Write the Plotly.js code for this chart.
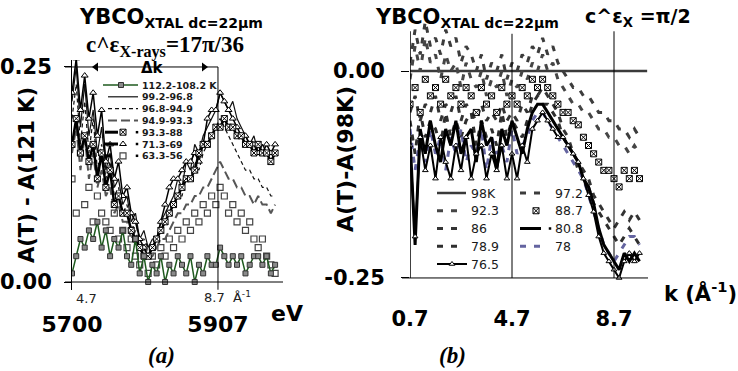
<!DOCTYPE html>
<html><head><meta charset="utf-8">
<script src="https://cdn.plot.ly/plotly-3.0.1.min.js"></script>
<style>html,body{margin:0;padding:0;background:#fff}#chart{width:738px;height:371px}</style>
</head><body><div id="chart"></div>
<script>
// ---------- Panel (a): energy grid (eV) ----------
const eV = [5700,5706,5712,5718,5724,5730,5736,5742,5748,5754,5760,5766,5772,5778,5784,5790,5796,5802,5808,5814,5820,5826,5832,5838,5844,5850,5856,5862,5868,5874,5880,5886,5892,5898,5904,5910,5916,5922,5928,5934,5940,5946,5952,5958,5964,5970,5976,5982,5988];
const aNames = ['112.2-108.2 K','99.2-96.8','96.8-94.9','94.9-93.3','93.3-88','71.3-69','63.3-56'];
const a112 = [0.01,0.03,0.05,0.04,0.06,0.05,0.07,0.04,0.06,0.03, 0.05,0.04,0.06,0.03,0.02,0.05,0.01,0.03,0.00,0.02, 0.01,0.03,0.00,0.02,0.01,0.03,0.02,0.01,0.03,0.00, 0.02,0.01,0.03,0.02,0.02,0.04,0.03,0.02,0.03,0.02, 0.03,0.01,0.02,0.03,0.03,0.02,0.03,0.01,0.02];
const a992 = [0.21,0.25,0.18,0.23,0.17,0.20,0.15,0.18,0.13,0.15, 0.11,0.12,0.09,0.10,0.07,0.08,0.05,0.06,0.04,0.05, 0.05,0.07,0.08,0.09,0.10,0.12,0.11,0.14,0.13,0.16, 0.15,0.17,0.18,0.19,0.20,0.22,0.21,0.20,0.21,0.19, 0.18,0.17,0.16,0.17,0.15,0.16,0.15,0.14,0.15];
const a968 = [0.19,0.23,0.16,0.21,0.15,0.19,0.13,0.16,0.12,0.14, 0.10,0.11,0.08,0.09,0.06,0.07,0.05,0.05,0.04,0.04, 0.05,0.06,0.07,0.08,0.09,0.10,0.10,0.12,0.12,0.14, 0.13,0.15,0.16,0.17,0.18,0.19,0.18,0.17,0.16,0.15, 0.14,0.13,0.13,0.12,0.12,0.11,0.11,0.10,0.10];
const a949 = [0.15,0.18,0.13,0.17,0.12,0.15,0.11,0.13,0.10,0.11, 0.08,0.09,0.07,0.07,0.05,0.06,0.04,0.04,0.03,0.03, 0.04,0.05,0.05,0.06,0.07,0.08,0.08,0.09,0.09,0.10, 0.10,0.11,0.11,0.12,0.13,0.14,0.13,0.12,0.12,0.11, 0.11,0.10,0.10,0.09,0.10,0.09,0.09,0.08,0.09];
const a933 = [0.16,0.19,0.15,0.17,0.14,0.16,0.12,0.15,0.11,0.13, 0.09,0.10,0.08,0.08,0.06,0.05,0.04,0.03,0.03,0.04, 0.05,0.06,0.07,0.08,0.09,0.10,0.11,0.12,0.12,0.13, 0.15,0.16,0.16,0.17,0.18,0.18,0.19,0.18,0.18,0.17, 0.17,0.16,0.16,0.15,0.16,0.15,0.15,0.14,0.15];
const a713 = [0.22,0.26,0.20,0.24,0.19,0.22,0.17,0.20,0.14,0.16, 0.12,0.14,0.10,0.11,0.08,0.07,0.05,0.04,0.03,0.04, 0.05,0.07,0.09,0.11,0.12,0.12,0.13,0.14,0.14,0.15, 0.14,0.16,0.19,0.20,0.20,0.22,0.21,0.20,0.19,0.18, 0.17,0.17,0.16,0.16,0.15,0.15,0.16,0.15,0.16];
const a633 = [0.12,0.08,0.15,0.09,0.11,0.07,0.10,0.08,0.07,0.06, 0.08,0.05,0.06,0.04,0.05,0.03,0.02,0.04,0.01,0.03, 0.02,0.04,0.03,0.05,0.04,0.06,0.05,0.07,0.06,0.08, 0.07,0.09,0.08,0.10,0.09,0.11,0.10,0.08,0.09,0.07, 0.08,0.06,0.07,0.05,0.04,0.05,0.03,0.02,0.01];
const aTicks = [5700,5907];
const aTickText = ['5700','5907'];
const aYTicks = [0,0.25];
const aYTickText = ['0.00','0.25'];

// ---------- Panel (b): k grid (1/Angstrom) ----------
const kB = [0.7,0.9,1.1,1.3,1.5,1.7,1.9,2.1,2.3,2.5,2.7,2.9,3.1,3.3,3.5,3.7,3.9,4.1,4.3,4.5,4.7,4.9,5.1,5.3,5.5,5.7,5.9,6.1,6.3,6.5,6.7,6.9,7.1,7.3,7.5,7.7,7.9,8.1,8.3,8.5,8.7,8.9,9.1,9.3,9.5,9.7];
const k98 = [0.7,10.0];
const b98 = [0,0];
const b972 = [0.01,0.05,0.02,0.06,0.03,0.04,0.02,0.05,0.03,0.04, 0.01,0.03,0.02,0.00,0.02,-0.01,0.01,0.00,0.02,-0.01, 0.01,0.00,0.02,0.01,0.03,0.02,0.04,0.02,0.03,0.01, 0.00,-0.01,-0.02,-0.02,-0.03,-0.03,-0.04,-0.05,-0.05,-0.06, -0.06,-0.07,-0.07,-0.08,-0.07,-0.08];
const b923 = [-0.01,0.03,0.00,0.04,0.01,0.02,-0.01,0.02,0.00,0.01, -0.02,0.01,-0.01,-0.02,0.00,-0.03,-0.01,-0.02,0.00,-0.03, -0.01,-0.02,0.00,-0.01,0.01,0.00,0.02,0.00,0.01,-0.01, -0.02,-0.03,-0.04,-0.04,-0.05,-0.05,-0.06,-0.07,-0.07,-0.08, -0.08,-0.09,-0.09,-0.10,-0.09,-0.10];
const b887 = [-0.04,-0.02,-0.05,-0.01,-0.03,-0.02,-0.04,-0.01,-0.03,-0.02, -0.04,-0.02,-0.03,-0.05,-0.02,-0.04,-0.03,-0.05,-0.02,-0.04, -0.03,-0.04,-0.02,-0.03,-0.01,-0.02,-0.01,-0.02,-0.03,-0.04, -0.05,-0.05,-0.06,-0.065,-0.08,-0.09,-0.10,-0.11,-0.12,-0.12, -0.13,-0.14,-0.12,-0.13,-0.12,-0.13];
const b86 = [-0.05,-0.03,-0.06,-0.04,-0.05,-0.03,-0.06,-0.04,-0.05,-0.03, -0.06,-0.04,-0.05,-0.06,-0.04,-0.06,-0.05,-0.06,-0.04,-0.06, -0.05,-0.06,-0.04,-0.05,-0.03,-0.03,-0.02,-0.03,-0.04,-0.05, -0.07,-0.08,-0.10,-0.11,-0.12,-0.13,-0.15,-0.16,-0.17,-0.18, -0.19,-0.18,-0.17,-0.18,-0.17,-0.18];
const b808 = [-0.08,-0.21,-0.07,-0.10,-0.06,-0.09,-0.11,-0.07,-0.09,-0.06, -0.10,-0.08,-0.07,-0.11,-0.06,-0.09,-0.08,-0.12,-0.07,-0.09, -0.06,-0.08,-0.10,-0.07,-0.05,-0.04,-0.04,-0.05,-0.06,-0.07, -0.08,-0.09,-0.10,-0.11,-0.13,-0.14,-0.16,-0.19,-0.21,-0.22, -0.23,-0.24,-0.22,-0.23,-0.22,-0.23];
const b789 = [-0.06,-0.10,-0.05,-0.08,-0.06,-0.07,-0.09,-0.05,-0.08,-0.06, -0.08,-0.06,-0.05,-0.09,-0.06,-0.08,-0.07,-0.09,-0.05,-0.08, -0.06,-0.07,-0.08,-0.06,-0.04,-0.03,-0.04,-0.04,-0.05,-0.06, -0.08,-0.09,-0.10,-0.12,-0.13,-0.14,-0.16,-0.17,-0.18,-0.19, -0.20,-0.21,-0.20,-0.19,-0.20,-0.21];
const b78 = [-0.07,-0.12,-0.08,-0.11,-0.07,-0.10,-0.08,-0.12,-0.08,-0.10, -0.07,-0.11,-0.09,-0.10,-0.07,-0.12,-0.08,-0.10,-0.09,-0.11, -0.07,-0.10,-0.09,-0.08,-0.06,-0.05,-0.05,-0.06,-0.07,-0.08, -0.09,-0.10,-0.11,-0.12,-0.13,-0.15,-0.17,-0.19,-0.21,-0.22, -0.23,-0.22,-0.21,-0.20,-0.20,-0.21];
const b765 = [-0.09,-0.20,-0.08,-0.12,-0.09,-0.13,-0.08,-0.11,-0.13,-0.09, -0.12,-0.08,-0.13,-0.10,-0.09,-0.13,-0.10,-0.12,-0.09,-0.13, -0.10,-0.13,-0.09,-0.11,-0.07,-0.06,-0.05,-0.06,-0.07,-0.08, -0.08,-0.09,-0.10,-0.11,-0.13,-0.15,-0.17,-0.20,-0.22,-0.23, -0.24,-0.25,-0.23,-0.22,-0.23,-0.22];
const bNames = ['98K','97.2','92.3','88.7','86','80.8','78.9','78','76.5'];
const bTicks = [0.7,4.7,8.7];
const bTickText = ['0.7','4.7','8.7'];
const bYTicks = [0,-0.25];
const bYTickText = ['0.00','-0.25'];

// ---------- helpers ----------
const W = 738, H = 371;
const px = x => x / W, py = y => 1 - y / H;
const SANS = 'DejaVu Sans', SERIF = 'Liberation Serif';
const DASH = '6px,8px';

// ---------- styles ----------
const st = {
  a112: {line:{color:'#1e5a1e',width:1.5}, marker:{symbol:'square',size:5,color:'#8a8a8a',line:{color:'#333',width:1}}, mode:'lines+markers'},
  a992: {line:{color:'#111',width:1.2}, mode:'lines'},
  a968: {line:{color:'#111',width:1.2,dash:'4px,3px'}, mode:'lines'},
  a949: {line:{color:'#555',width:2,dash:'9px,4px'}, mode:'lines'},
  a933: {line:{color:'#000',width:2.5}, marker:{symbol:'square-x',size:6,color:'#fff',line:{color:'#000',width:1}}, mode:'lines+markers'},
  a713: {line:{color:'#000',width:1.5}, marker:{symbol:'triangle-up',size:6,color:'#fff',line:{color:'#000',width:1}}, mode:'lines+markers'},
  a633: {marker:{symbol:'square',size:6,color:'#fff',line:{color:'#444',width:1.2}}, mode:'markers'},
  b98: {line:{color:'#3a3a3a',width:2.5}, mode:'lines'},
  b972:{line:{color:'#3c3c3c',width:3,dash:DASH}, mode:'lines'},
  b923:{line:{color:'#454545',width:3,dash:DASH}, mode:'lines'},
  b887:{marker:{symbol:'square-x',size:6,color:'#fff',line:{color:'#000',width:1}}, mode:'markers'},
  b86: {line:{color:'#333',width:3,dash:DASH}, mode:'lines'},
  b808:{line:{color:'#000',width:3}, mode:'lines'},
  b789:{line:{color:'#2e2e2e',width:3,dash:DASH}, mode:'lines'},
  b78: {line:{color:'#6464a0',width:3,dash:DASH}, mode:'lines'},
  b765:{line:{color:'#000',width:2}, marker:{symbol:'triangle-up',size:5,color:'#fff',line:{color:'#000',width:1}}, mode:'lines+markers'}
};

function tr(x, y, s, name, xa, ya) {
  return Object.assign({type:'scatter', x:x, y:y, name:name, xaxis:xa, yaxis:ya, showlegend:false, hoverinfo:'skip', cliponaxis:true}, JSON.parse(JSON.stringify(s)));
}

const data = [
  tr(eV, a633, st.a633, aNames[6], 'x','y'),
  tr(eV, a949, st.a949, aNames[3], 'x','y'),
  tr(eV, a992, st.a992, aNames[1], 'x','y'),
  tr(eV, a968, st.a968, aNames[2], 'x','y'),
  tr(eV, a713, st.a713, aNames[5], 'x','y'),
  tr(eV, a933, st.a933, aNames[4], 'x','y'),
  tr(eV, a112, st.a112, aNames[0], 'x','y'),
  tr(k98, b98, st.b98, bNames[0], 'x2','y2'),
  tr(kB, b972, st.b972, bNames[1], 'x2','y2'),
  tr(kB, b923, st.b923, bNames[2], 'x2','y2'),
  tr(kB, b86, st.b86, bNames[4], 'x2','y2'),
  tr(kB, b789, st.b789, bNames[6], 'x2','y2'),
  tr(kB, b78, st.b78, bNames[7], 'x2','y2'),
  tr(kB, b808, st.b808, bNames[5], 'x2','y2'),
  tr(kB, b765, st.b765, bNames[8], 'x2','y2'),
  tr(kB, b887, st.b887, bNames[3], 'x2','y2')
];

// ---------- manual legends (drawn on an overlay pixel axis) ----------
const annotations = [];
function legLine(x0, x1, y, line) {
  data.push({type:'scatter', x:[x0,x1], y:[y,y], mode:'lines', line:line, xaxis:'x3', yaxis:'y3', showlegend:false, hoverinfo:'skip'});
}
function legMark(x, y, marker) {
  data.push({type:'scatter', x:[x], y:[y], mode:'markers', marker:marker, xaxis:'x3', yaxis:'y3', showlegend:false, hoverinfo:'skip', cliponaxis:false});
}
function legText(t, x, y, size, bold) {
  annotations.push({text:t, xref:'paper', yref:'paper', x:px(x), y:py(y), xanchor:'left', yanchor:'middle', showarrow:false,
    font:{family:SANS, size:size, color:'#1a1a1a', weight: bold ? 700 : 400}});
}
// legend (a)
const aRow = i => 85 + i * 11.8;
legLine(103, 138, aRow(0), st.a112.line); legMark(121, aRow(0), st.a112.marker);
legLine(108, 138, aRow(1), st.a992.line);
legLine(108, 138, aRow(2), st.a968.line);
legLine(108, 138, aRow(3), st.a949.line);
legLine(105, 118, aRow(4), {color:'#000',width:3}); legMark(123, aRow(4), st.a933.marker); legMark(137, aRow(4), {symbol:'square',size:2.5,color:'#000'});
legLine(105, 118, aRow(5), {color:'#000',width:3}); legMark(123, aRow(5), st.a713.marker); legMark(137, aRow(5), {symbol:'square',size:2.5,color:'#000'});
legLine(105, 111, aRow(6), {color:'#000',width:3}); legMark(123, aRow(6), st.a633.marker); legMark(137, aRow(6), {symbol:'square',size:2.5,color:'#000'});
aNames.forEach((n, i) => legText(n, 140, aRow(i), 9.5, true));
// legend (b)
const bRow = j => 193 + j * 17.75;
legLine(437, 466, bRow(0), st.b98.line);
legLine(437, 460, bRow(1), st.b923.line);
legLine(437, 460, bRow(2), st.b86.line);
legLine(437, 460, bRow(3), st.b789.line);
legLine(437, 467, bRow(4), {color:'#000',width:2}); legMark(452, bRow(4), st.b765.marker);
legLine(520, 543, bRow(0), st.b972.line);
legMark(536, bRow(1), st.b887.marker);
legLine(520, 541, bRow(2), {color:'#000',width:3}); legMark(550, bRow(2), {symbol:'square',size:2.5,color:'#000'});
legLine(520, 543, bRow(3), st.b78.line);
[['98K',0],['92.3',1],['86',2],['78.9',3],['76.5',4]].forEach(([t,j]) => legText(t, 469, bRow(j), 12.5, false));
[['97.2',0],['88.7',1],['80.8',2],['78',3]].forEach(([t,j]) => legText(t, 553, bRow(j), 12.5, false));
// delta-k arrow heads (panel a)
legMark(96, 67, {symbol:'triangle-left', size:8, color:'#000'});
legMark(204, 67, {symbol:'triangle-right', size:8, color:'#000'});

// ---------- text annotations ----------
function ann(t, x, y, font, extra) {
  annotations.push(Object.assign({text:t, xref:'paper', yref:'paper', x:px(x), y:py(y), xanchor:'center', yanchor:'middle', showarrow:false, font:font}, extra || {}));
}
const bold = (size, fam) => ({family: fam || SANS, size:size, color:'#000', weight:700});
ann('<span style="font-size:21px">YBCO</span><sub>XTAL dc=22μm</sub>', 77, 18, bold(20), {xanchor:'left'});
ann('c^ε<sub>X-rays</sub>=17π/36', 84, 47, bold(23, SERIF), {xanchor:'left'});
ann('Δk', 152, 68, bold(15));
ann('A(T) - A(121 K)', 27, 175, bold(21), {textangle:-90});
ann('4.7', 86, 298, {family:SANS, size:13, color:'#222'});
ann('8.7  Å<sup>-1</sup>', 202, 297, {family:SANS, size:13, color:'#222'}, {xanchor:'left'});
ann('eV', 287, 313, bold(22));
ann('(a)', 161, 355, {family:SERIF, size:23, color:'#000', weight:700, style:'italic'});
ann('<span style="font-size:21px">YBCO</span><sub>XTAL dc=22μm</sub>', 373, 18, bold(20), {xanchor:'left'});
ann('c^ε<sub>X</sub> =π/2', 583, 17, bold(19), {xanchor:'left'});
ann('A(T)-A(98K)', 345, 159, bold(22), {textangle:-90});
ann('k (Å<sup>-1</sup>)', 700, 292, bold(21));
ann('(b)', 453, 355, {family:SERIF, size:23, color:'#000', weight:700, style:'italic'});

// ---------- frame lines ----------
const L = (c, w) => ({color:c || '#000', width:w || 1});
const shapes = [
  // panel (a)
  {type:'line', xref:'paper', yref:'y', x0:px(65), x1:px(283), y0:0, y1:0, line:L()},
  {type:'line', xref:'paper', yref:'y', x0:px(65), x1:px(218), y0:0.25, y1:0.25, line:L()},
  {type:'line', xref:'x', yref:'y', x0:aTicks[1], x1:aTicks[1], y0:-0.009, y1:0.25, line:L()},
  // panel (b)
  {type:'line', xref:'paper', yref:'y2', x0:px(402), x1:px(648), y0:-0.25, y1:-0.25, line:L()},
  {type:'line', xref:'x2', yref:'y2', x0:bTicks[0], x1:bTicks[0], y0:-0.25, y1:0.048, line:L('#000',1.5)},
  {type:'line', xref:'x2', yref:'y2', x0:bTicks[1], x1:bTicks[1], y0:-0.25, y1:0.045, line:L()},
  {type:'line', xref:'x2', yref:'y2', x0:bTicks[2], x1:bTicks[2], y0:-0.25, y1:0.048, line:L()}
];

const layout = {
  width: W, height: H,
  margin: {l:0, r:0, t:0, b:0},
  paper_bgcolor: '#fff', plot_bgcolor: 'rgba(0,0,0,0)',
  showlegend: false,
  xaxis: {domain:[px(72), px(283)], range:[5700, 5999.2], anchor:'y', tickvals:aTicks, ticktext:aTickText,
          tickfont:bold(22), ticks:'', showgrid:false, zeroline:false, showline:false, ticklabelstandoff:19},
  yaxis: {domain:[py(290), py(60)], range:[-0.0093, 0.2581], anchor:'x', tickvals:aYTicks, ticktext:aYTickText,
          tickfont:bold(21), ticks:'outside', ticklen:7, tickwidth:1, tickcolor:'#000', showline:true, linecolor:'#000', linewidth:1,
          showgrid:false, zeroline:false, ticklabelstandoff:8},
  xaxis2: {domain:[px(410), px(648)], range:[0.7, 10.033], anchor:'y2', tickvals:bTicks, ticktext:bTickText,
          tickfont:bold(21), ticks:'', showgrid:false, zeroline:false, showline:false, ticklabelstandoff:19},
  yaxis2: {domain:[py(285), py(12)], range:[-0.2585, 0.0713], anchor:'x2', tickvals:bYTicks, ticktext:bYTickText,
          tickfont:bold(21), ticks:'outside', ticklen:8, tickwidth:1, tickcolor:'#000', showline:false,
          showgrid:false, zeroline:false, ticklabelstandoff:12},
  xaxis3: {domain:[0,1], range:[0, W], anchor:'y3', visible:false, fixedrange:true},
  yaxis3: {domain:[0,1], range:[H, 0], anchor:'x3', visible:false, fixedrange:true},
  shapes: shapes,
  annotations: annotations
};

Plotly.newPlot('chart', data, layout, {staticPlot:true, displayModeBar:false});
</script>
</body></html>
